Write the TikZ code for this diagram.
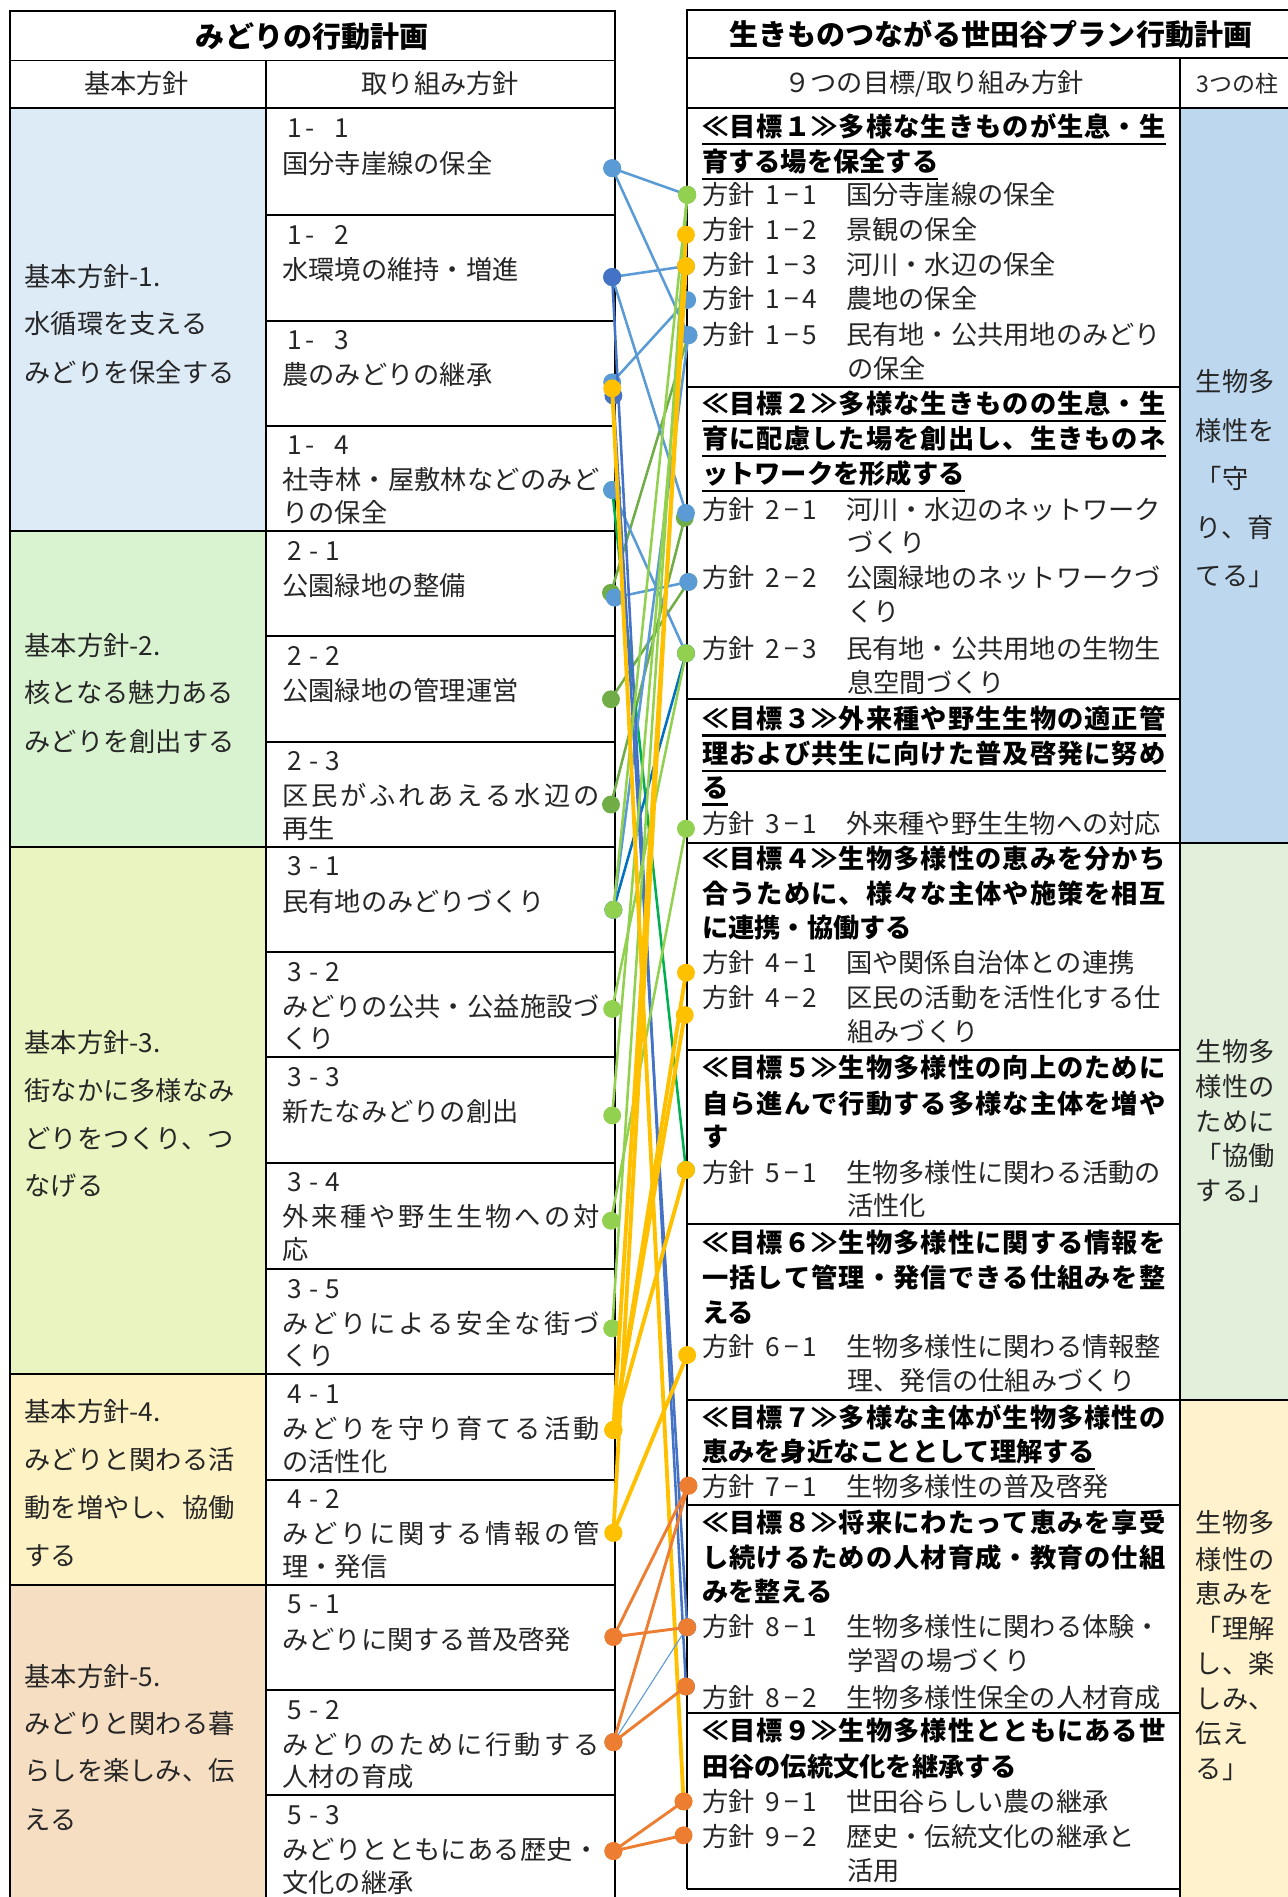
\documentclass[tikz,border=0pt]{standalone}
\usepackage{fontspec}
\setmainfont{Noto Sans CJK JP}
\definecolor{txt}{HTML}{262626}
\definecolor{bfa}{HTML}{DDEBF7}
\definecolor{bfb}{HTML}{D9F2D0}
\definecolor{bfc}{HTML}{EAF4C0}
\definecolor{bfd}{HTML}{FDF2C4}
\definecolor{bfe}{HTML}{F6DEC3}
\definecolor{pfa}{HTML}{BDD7EE}
\definecolor{pfb}{HTML}{E2EFDA}
\definecolor{pfc}{HTML}{FFF2CC}
\definecolor{clb}{HTML}{5B9BD5}
\definecolor{cdb}{HTML}{4472C4}
\definecolor{cbl}{HTML}{0070C0}
\definecolor{cyl}{HTML}{FFC000}
\definecolor{clg}{HTML}{92D050}
\definecolor{cgr}{HTML}{70AD47}
\definecolor{cbg}{HTML}{00B050}
\definecolor{cor}{HTML}{ED7D31}
\newcommand\fs{\fontsize{10.85pt}{13pt}\selectfont}
\newcommand\ft{\fontsize{12pt}{14pt}\selectfont}
\makeatletter
\newcommand\spreadbox[2]{\hbox to #1{\spr@first#2\relax}}
\def\spr@first#1{#1\spr@rest}
\def\spr@rest#1{\ifx#1\relax\else\hfil#1\expandafter\spr@rest\fi}
\makeatother
\newcommand\ulx[1]{\setbox0=\hbox{#1}\rlap{\rule[-3.45pt]{\wd0}{0.9pt}}\box0}
\newcommand\hs[2]{\hbox to 47.5pt{方針\hskip 3pt\hfil#1\hfil−\hfil#2}}
\newcommand\nA[1]{\hbox to 25.5pt{1\hskip1.5pt-\hfil#1}}
\newcommand\nB[2]{\hbox to 22pt{#1\hfil-\hfil#2}}
\newcommand\cnd[3]{\draw[#1] (#2) -- (#3); \fill[#1] (#2) circle[radius=3.7pt] (#3) circle[radius=3.7pt];}
\begin{document}
\begin{tikzpicture}[x=0.5pt,y=-0.5pt,
  tx/.style={anchor=base west,inner sep=0pt,text=txt,font=\fs},
  bx/.style={anchor=base west,inner sep=0pt,text=black,font=\fs\bfseries},
  ct/.style={anchor=center,inner sep=0pt,text=txt,font=\fs},
  ttl/.style={anchor=center,inner sep=0pt,text=black,font=\ft\bfseries},
  rl/.style={line width=0.8pt,black},
  ln/.style={line width=1.05pt},
  lny/.style={line width=1.6pt,cyl},
  lno/.style={line width=1.2pt,cor}]
\useasboundingbox (0,0) rectangle (1064,1568);
% ---------- left table ----------
\fill[bfa] (8,89) rectangle (220,439);
\fill[bfb] (8,439) rectangle (220,700);
\fill[bfc] (8,700) rectangle (220,1136);
\fill[bfd] (8,1136) rectangle (220,1310);
\fill[bfe] (8,1310) rectangle (220,1580);
\draw[rl] (8,1580) -- (8,9) -- (508,9) -- (508,1580);
\draw[rl] (8,50) -- (508,50) (8,89) -- (508,89) (220,50) -- (220,1580);
\foreach \yy in {178,265,352,439,526,613,700,787,874,961,1049,1136,1223,1310,1397,1484}
  \draw[rl] (220,\yy) -- (508,\yy);
\foreach \yy in {439,700,1136,1310}
  \draw[rl] (8,\yy) -- (220,\yy);
\node[ttl] (lt) at (258,30) {みどりの行動計画};
\node[ct] (lh1) at (113,69) {基本方針};
\node[ct] (lh2) at (364,69) {取り組み方針};
% basic policies
\node[tx] (b1a) at (20,237) {基本方針-1.};
\node[tx] (b1b) at (20,276) {水循環を支える};
\node[tx] (b1c) at (20,316) {みどりを保全する};
\node[tx] (b2a) at (20,542) {基本方針-2.};
\node[tx] (b2b) at (20,581) {核となる魅力ある};
\node[tx] (b2c) at (20,621) {みどりを創出する};
\node[tx] (b3a) at (20,870) {基本方針-3.};
\node[tx] (b3b) at (20,910) {街なかに多様なみ};
\node[tx] (b3c) at (20,949) {どりをつくり、つ};
\node[tx] (b3d) at (20,988) {なげる};
\node[tx] (b4a) at (20,1175) {基本方針-4.};
\node[tx] (b4b) at (20,1215) {みどりと関わる活};
\node[tx] (b4c) at (20,1254) {動を増やし、協働};
\node[tx] (b4d) at (20,1294) {する};
\node[tx] (b5a) at (20,1394) {基本方針-5.};
\node[tx] (b5b) at (20,1433) {みどりと関わる暮};
\node[tx] (b5c) at (20,1472) {らしを楽しみ、伝};
\node[tx] (b5d) at (20,1512) {える};
% action policies (left)
\node[tx] (a11n) at (237,90+24) {\nA{1}};
\node[tx] (a11a) at (233,90+53) {国分寺崖線の保全};
\node[tx] (a12n) at (237,178+24) {\nA{2}};
\node[tx] (a12a) at (233,178+53) {水環境の維持・増進};
\node[tx] (a13n) at (237,265+24) {\nA{3}};
\node[tx] (a13a) at (233,265+53) {農のみどりの継承};
\node[tx] (a14n) at (237,352+24) {\nA{4}};
\node[tx] (a14a) at (233,352+53) {\spreadbox{131pt}{社寺林・屋敷林などのみど}};
\node[tx] (a14b) at (233,352+80) {りの保全};
\node[tx] (a21n) at (237,439+24) {\nB{2}{1}};
\node[tx] (a21a) at (233,439+53) {公園緑地の整備};
\node[tx] (a22n) at (237,526+24) {\nB{2}{2}};
\node[tx] (a22a) at (233,526+53) {公園緑地の管理運営};
\node[tx] (a23n) at (237,613+24) {\nB{2}{3}};
\node[tx] (a23a) at (233,613+53) {\spreadbox{131pt}{区民がふれあえる水辺の}};
\node[tx] (a23b) at (233,613+80) {再生};
\node[tx] (a31n) at (237,700+24) {\nB{3}{1}};
\node[tx] (a31a) at (233,700+53) {民有地のみどりづくり};
\node[tx] (a32n) at (237,787+24) {\nB{3}{2}};
\node[tx] (a32a) at (233,787+53) {\spreadbox{131pt}{みどりの公共・公益施設づ}};
\node[tx] (a32b) at (233,787+80) {くり};
\node[tx] (a33n) at (237,874+24) {\nB{3}{3}};
\node[tx] (a33a) at (233,874+53) {新たなみどりの創出};
\node[tx] (a34n) at (237,961+24) {\nB{3}{4}};
\node[tx] (a34a) at (233,961+53) {\spreadbox{131pt}{外来種や野生生物への対}};
\node[tx] (a34b) at (233,961+80) {応};
\node[tx] (a35n) at (237,1049+24) {\nB{3}{5}};
\node[tx] (a35a) at (233,1049+53) {\spreadbox{131pt}{みどりによる安全な街づ}};
\node[tx] (a35b) at (233,1049+80) {くり};
\node[tx] (a41n) at (237,1136+24) {\nB{4}{1}};
\node[tx] (a41a) at (233,1136+53) {\spreadbox{131pt}{みどりを守り育てる活動}};
\node[tx] (a41b) at (233,1136+80) {の活性化};
\node[tx] (a42n) at (237,1223+24) {\nB{4}{2}};
\node[tx] (a42a) at (233,1223+53) {\spreadbox{131pt}{みどりに関する情報の管}};
\node[tx] (a42b) at (233,1223+80) {理・発信};
\node[tx] (a51n) at (237,1310+24) {\nB{5}{1}};
\node[tx] (a51a) at (233,1310+53) {みどりに関する普及啓発};
\node[tx] (a52n) at (237,1397+24) {\nB{5}{2}};
\node[tx] (a52a) at (233,1397+53) {\spreadbox{131pt}{みどりのために行動する}};
\node[tx] (a52b) at (233,1397+80) {人材の育成};
\node[tx] (a53n) at (237,1484+24) {\nB{5}{3}};
\node[tx] (a53a) at (233,1484+53) {\spreadbox{131pt}{みどりとともにある歴史・}};
\node[tx] (a53b) at (233,1484+80) {文化の継承};
% ---------- right table ----------
\fill[pfa] (975,89) rectangle (1070,697);
\fill[pfb] (975,697) rectangle (1070,1157);
\fill[pfc] (975,1157) rectangle (1070,1580);
\draw[rl] (568,1561) -- (568,8) -- (1070,8);
\draw[rl] (568,48) -- (1070,48) (568,89) -- (1070,89) (975,48) -- (975,1580);
\foreach \yy in {320,578,697,868,1012,1157,1244,1416,1561}
  \draw[rl] (568,\yy) -- (975,\yy);
\draw[rl] (975,697) -- (1070,697) (975,1157) -- (1070,1157);
\node[ttl] (rt) at (819,28) {生きものつながる世田谷プラン行動計画};
\node[ct] (rh1) at (772,69) {９つの目標/取り組み方針};
\node[ct,font=\fontsize{9.5pt}{11pt}\selectfont] (rh2) at (1023,69) {3つの柱};
% goal 1
\node[bx] (g1a) at (580,105+8) {\ulx{\spreadbox{191.5pt}{≪目標１≫多様な生きものが生息・生}}};
\node[bx] (g1b) at (580,134+8) {\ulx{育する場を保全する}};
\node[tx] (p11) at (580,161+8) {\hs{1}{1}};
\node[tx] (q11) at (699,161+8) {国分寺崖線の保全};
\node[tx] (p12) at (580,190+8) {\hs{1}{2}};
\node[tx] (q12) at (699,190+8) {景観の保全};
\node[tx] (p13) at (580,219+8) {\hs{1}{3}};
\node[tx] (q13) at (699,219+8) {河川・水辺の保全};
\node[tx] (p14) at (580,247+8) {\hs{1}{4}};
\node[tx] (q14) at (699,247+8) {農地の保全};
\node[tx] (p15) at (580,277+8) {\hs{1}{5}};
\node[tx] (q15) at (699,277+8) {民有地・公共用地のみどり};
\node[tx] (q15b) at (700,305+8) {の保全};
% goal 2
\node[bx] (g2a) at (580,334+8) {\ulx{\spreadbox{191.5pt}{≪目標２≫多様な生きものの生息・生}}};
\node[bx] (g2b) at (580,363+8) {\ulx{\spreadbox{191.5pt}{育に配慮した場を創出し、生きものネ}}};
\node[bx] (g2c) at (580,392+8) {\ulx{ットワークを形成する}};
\node[tx] (p21) at (580,421+8) {\hs{2}{1}};
\node[tx] (q21) at (699,421+8) {河川・水辺のネットワーク};
\node[tx] (q21b) at (700,449+8) {づくり};
\node[tx] (p22) at (580,478+8) {\hs{2}{2}};
\node[tx] (q22) at (699,478+8) {公園緑地のネットワークづ};
\node[tx] (q22b) at (700,506+8) {くり};
\node[tx] (p23) at (580,536+8) {\hs{2}{3}};
\node[tx] (q23) at (699,536+8) {民有地・公共用地の生物生};
\node[tx] (q23b) at (700,564+8) {息空間づくり};
% goal 3
\node[bx] (g3a) at (580,594+8) {\ulx{\spreadbox{191.5pt}{≪目標３≫外来種や野生生物の適正管}}};
\node[bx] (g3b) at (580,623+8) {\ulx{\spreadbox{191.5pt}{理および共生に向けた普及啓発に努め}}};
\node[bx] (g3c) at (580,651+8) {\ulx{る}};
\node[tx] (p31) at (580,681+8) {\hs{3}{1}};
\node[tx] (q31) at (699,681+8) {外来種や野生生物への対応};
% goal 4
\node[bx] (g4a) at (580,710+8) {\spreadbox{191.5pt}{≪目標４≫生物多様性の恵みを分かち}};
\node[bx] (g4b) at (580,739+8) {\spreadbox{191.5pt}{合うために、様々な主体や施策を相互}};
\node[bx] (g4c) at (580,767+8) {に連携・協働する};
\node[tx] (p41) at (580,796+8) {\hs{4}{1}};
\node[tx] (q41) at (699,796+8) {国や関係自治体との連携};
\node[tx] (p42) at (580,825+8) {\hs{4}{2}};
\node[tx] (q42) at (699,825+8) {区民の活動を活性化する仕};
\node[tx] (q42b) at (700,853+8) {組みづくり};
% goal 5
\node[bx] (g5a) at (580,883+8) {\spreadbox{191.5pt}{≪目標５≫生物多様性の向上のために}};
\node[bx] (g5b) at (580,912+8) {\spreadbox{191.5pt}{自ら進んで行動する多様な主体を増や}};
\node[bx] (g5c) at (580,940+8) {す};
\node[tx] (p51) at (580,969+8) {\hs{5}{1}};
\node[tx] (q51) at (699,969+8) {生物多様性に関わる活動の};
\node[tx] (q51b) at (700,997+8) {活性化};
% goal 6
\node[bx] (g6a) at (580,1027+8) {\spreadbox{191.5pt}{≪目標６≫生物多様性に関する情報を}};
\node[bx] (g6b) at (580,1056+8) {\spreadbox{191.5pt}{一括して管理・発信できる仕組みを整}};
\node[bx] (g6c) at (580,1085+8) {える};
\node[tx] (p61) at (580,1113+8) {\hs{6}{1}};
\node[tx] (q61) at (699,1113+8) {生物多様性に関わる情報整};
\node[tx] (q61b) at (700,1141+8) {理、発信の仕組みづくり};
% goal 7
\node[bx] (g7a) at (580,1172+8) {\spreadbox{191.5pt}{≪目標７≫多様な主体が生物多様性の}};
\node[bx] (g7b) at (580,1200+8) {\ulx{恵みを身近なこととして理解する}};
\node[tx] (p71) at (580,1229+8) {\hs{7}{1}};
\node[tx] (q71) at (699,1229+8) {生物多様性の普及啓発};
% goal 8
\node[bx] (g8a) at (580,1259+8) {\spreadbox{191.5pt}{≪目標８≫将来にわたって恵みを享受}};
\node[bx] (g8b) at (580,1288+8) {\spreadbox{191.5pt}{し続けるための人材育成・教育の仕組}};
\node[bx] (g8c) at (580,1316+8) {みを整える};
\node[tx] (p81) at (580,1345+8) {\hs{8}{1}};
\node[tx] (q81) at (699,1345+8) {生物多様性に関わる体験・};
\node[tx] (q81b) at (700,1373+8) {学習の場づくり};
\node[tx] (p82) at (580,1403+8) {\hs{8}{2}};
\node[tx] (q82) at (699,1403+8) {生物多様性保全の人材育成};
% goal 9
\node[bx] (g9a) at (580,1431+8) {\spreadbox{191.5pt}{≪目標９≫生物多様性とともにある世}};
\node[bx] (g9b) at (580,1460+8) {田谷の伝統文化を継承する};
\node[tx] (p91) at (580,1489+8) {\hs{9}{1}};
\node[tx] (q91) at (699,1489+8) {世田谷らしい農の継承};
\node[tx] (p92) at (580,1518+8) {\hs{9}{2}};
\node[tx] (q92) at (699,1518+8) {歴史・伝統文化の継承と};
\node[tx] (q92b) at (700,1546+8) {活用};
% pillars
\node[tx] (s1a) at (988,316+8) {生物多};
\node[tx] (s1b) at (988,356+8) {様性を};
\node[tx] (s1c) at (988,396+8) {「守};
\node[tx] (s1d) at (988,436+8) {り、育};
\node[tx] (s1e) at (988,476+8) {てる」};
\node[tx] (s2a) at (988,869+8) {生物多};
\node[tx] (s2b) at (988,898+8) {様性の};
\node[tx] (s2c) at (988,927+8) {ために};
\node[tx] (s2d) at (988,955+8) {「協働};
\node[tx] (s2e) at (988,984+8) {する」};
\node[tx] (s3a) at (988,1259+8) {生物多};
\node[tx] (s3b) at (988,1289+8) {様性の};
\node[tx] (s3c) at (988,1317+8) {恵みを};
\node[tx] (s3d) at (988,1346+8) {「理解};
\node[tx] (s3e) at (988,1375+8) {し、楽};
\node[tx] (s3f) at (988,1404+8) {しみ、};
\node[tx] (s3g) at (988,1433+8) {伝え};
\node[tx] (s3h) at (988,1462+8) {る」};
% ---------- connector end points ----------
\coordinate (L11) at (506,139);
\coordinate (L12) at (506,229);
\coordinate (L13a) at (506,316);
\coordinate (L13) at (506,321);
\coordinate (L13b) at (507,327);
\coordinate (L14) at (506,405);
\coordinate (L21) at (508,494);
\coordinate (L21g) at (505,490);
\coordinate (L22) at (505,578);
\coordinate (L23) at (505,665);
\coordinate (L31) at (507,752);
\coordinate (L32) at (506,834);
\coordinate (L33) at (506,922);
\coordinate (L34) at (505,1009);
\coordinate (L35) at (506,1098);
\coordinate (L41) at (507,1182);
\coordinate (L42) at (507,1267);
\coordinate (L51) at (507,1353);
\coordinate (L52) at (507,1440);
\coordinate (L53) at (507,1530);
\coordinate (R11) at (568,161);
\coordinate (R12) at (567,194);
\coordinate (R13) at (567,220);
\coordinate (R14) at (568,248);
\coordinate (R15) at (569,277);
\coordinate (R21) at (567,424);
\coordinate (R21g) at (566,428);
\coordinate (R22) at (569,481);
\coordinate (R23) at (567,540);
\coordinate (R31) at (567,685);
\coordinate (R41) at (567,804);
\coordinate (R42) at (566,839);
\coordinate (R51) at (567,967);
\coordinate (R61) at (568,1120);
\coordinate (R71) at (569,1228);
\coordinate (R81) at (568,1345);
\coordinate (R82) at (567,1394);
\coordinate (R91) at (565,1489);
\coordinate (R92) at (565,1517);
% ---------- connectors ----------
\cnd{ln,cgr}{L21g}{R15}
\cnd{ln,cgr}{L22}{R22}
\cnd{ln,cgr}{L23}{R21g}
\cnd{ln,cbg}{L14}{R51}
\cnd{ln,cbl}{L31}{R23}
\cnd{ln,clb}{L11}{R11}
\cnd{ln,clb}{L11}{R15}
\cnd{ln,clb}{L12}{R13}
\cnd{ln,clb}{L12}{R21}
\cnd{ln,clb}{L13a}{R14}
\cnd{ln,clb}{L14}{R23}
\cnd{ln,clb}{L21}{R22}
\cnd{ln,clb}{L31}{R15}
\cnd{ln,cdb}{L12}{R82}
\cnd{ln,cdb}{L13b}{R81}
\cnd{ln,clg}{L31}{R11}
\cnd{ln,clg}{L32}{R23}
\cnd{ln,clg}{L33}{R13}
\cnd{ln,clg}{L34}{R31}
\cnd{ln,clg}{L35}{R11}
\cnd{lny}{L13}{R91}
\cnd{lny}{L41}{R13}
\cnd{lny}{L42}{R12}
\cnd{lny}{L41}{R41}
\cnd{lny}{L41}{R42}
\cnd{lny}{L41}{R51}
\cnd{lny}{L42}{R61}
\cnd{line width=0.45pt,clb}{L52}{R81}
\cnd{lno}{L51}{R71}
\cnd{lno}{L51}{R81}
\cnd{lno}{L52}{R71}
\cnd{lno}{L52}{R82}
\cnd{lno}{L53}{R91}
\cnd{lno}{L53}{R92}
\end{tikzpicture}
\end{document}
